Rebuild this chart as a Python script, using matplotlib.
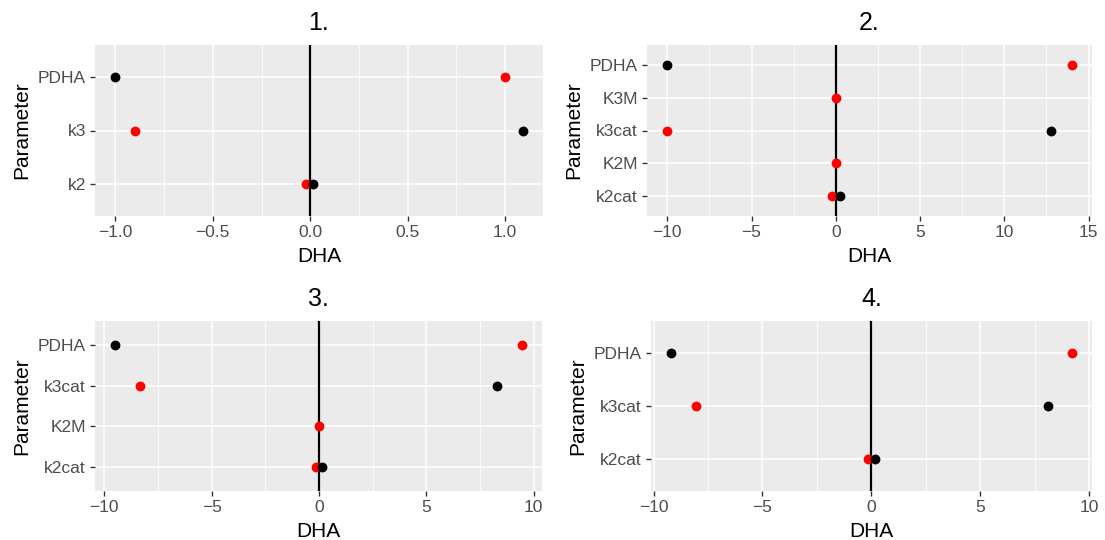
import matplotlib
matplotlib.use('Agg')
import matplotlib.pyplot as plt
import numpy as np

plt.rcParams['font.family'] = ['Liberation Sans', 'DejaVu Sans']

# values, categories listed bottom to top
titles = ['1.', '2.', '3.', '4.']

params_1 = ['k2', 'k3', 'PDHA']
black_1 = [0.015, 1.09, -1.0]
red_1 = [-0.02, -0.9, 1.0]

params_2 = ['k2cat', 'K2M', 'k3cat', 'K3M', 'PDHA']
black_2 = [0.25, np.nan, 12.75, np.nan, -10.0]
red_2 = [-0.25, 0.0, -10.0, 0.0, 14.0]

params_3 = ['k2cat', 'K2M', 'k3cat', 'PDHA']
black_3 = [0.15, np.nan, 8.28, -9.49]
red_3 = [-0.14, 0.0, -8.33, 9.44]

params_4 = ['k2cat', 'k3cat', 'PDHA']
black_4 = [0.18, 8.1, -9.2]
red_4 = [-0.14, -8.05, 9.22]

ticks_1 = [-1.0, -0.5, 0.0, 0.5, 1.0]
tick_labels_1 = ['\u22121.0', '\u22120.5', '0.0', '0.5', '1.0']
ticks_2 = [-10, -5, 0, 5, 10, 15]
tick_labels_2 = ['\u221210', '\u22125', '0', '5', '10', '15']
ticks_34 = [-10, -5, 0, 5, 10]
tick_labels_34 = ['\u221210', '\u22125', '0', '5', '10']

# panel boxes in pixels: left, top, right, bottom
W, H = 1105, 540
boxes = [(95, 45, 543, 216), (647, 45, 1092, 216),
         (95, 321, 542, 491), (651, 321, 1092, 491)]

panels = [
    (params_1, black_1, red_1, ticks_1, tick_labels_1),
    (params_2, black_2, red_2, ticks_2, tick_labels_2),
    (params_3, black_3, red_3, ticks_34, tick_labels_34),
    (params_4, black_4, red_4, ticks_34, tick_labels_34),
]

fig = plt.figure(figsize=(W / 100, H / 100), dpi=100)
fig.patch.set_facecolor('white')

for (params, black, red, ticks, tick_labels), box, title in zip(panels, boxes, titles):
    l, t, r, b = box
    ax = fig.add_axes([l / W, 1 - b / H, (r - l) / W, (b - t) / H])
    ax.set_facecolor('#EBEBEB')
    for s in ax.spines.values():
        s.set_visible(False)

    vals = np.array(black + red, dtype=float)
    lo, hi = np.nanmin(vals), np.nanmax(vals)
    ext = (hi - lo) * 0.05
    y = np.arange(len(params))

    # grid like ggplot: major + minor halfway between x breaks
    step = ticks[1] - ticks[0]
    minors = [v + step / 2 for v in [ticks[0] - step] + ticks]
    ax.set_xticks(ticks)
    ax.set_xticklabels(tick_labels)
    ax.set_xticks(minors, minor=True)
    ax.set_yticks(y)
    ax.set_yticklabels(params)
    ax.set_xlim(lo - ext, hi + ext)
    ax.set_ylim(-0.6, len(params) - 0.4)
    ax.grid(which='major', color='white', linewidth=1.1, zorder=0)
    ax.grid(which='minor', axis='x', color='white', linewidth=0.55, zorder=0)
    ax.set_axisbelow(True)
    ax.tick_params(which='major', length=3.6, width=1.0, color='#333333',
                   labelsize=12.5, labelcolor='#4D4D4D', pad=3)
    ax.tick_params(which='minor', length=0)

    ax.axvline(0, color='black', linewidth=1.6, zorder=2)
    ax.scatter(red, y, s=50, color='#FF0000', zorder=3, linewidths=0)
    ax.scatter(black, y, s=50, color='black', zorder=4, linewidths=0)

    ax.set_title(title, fontsize=18, pad=11)
    ax.set_xlabel('DHA', fontsize=15, labelpad=5)
    ax.set_ylabel('Parameter', fontsize=15, labelpad=5)

fig.savefig('out.png', dpi=100)
